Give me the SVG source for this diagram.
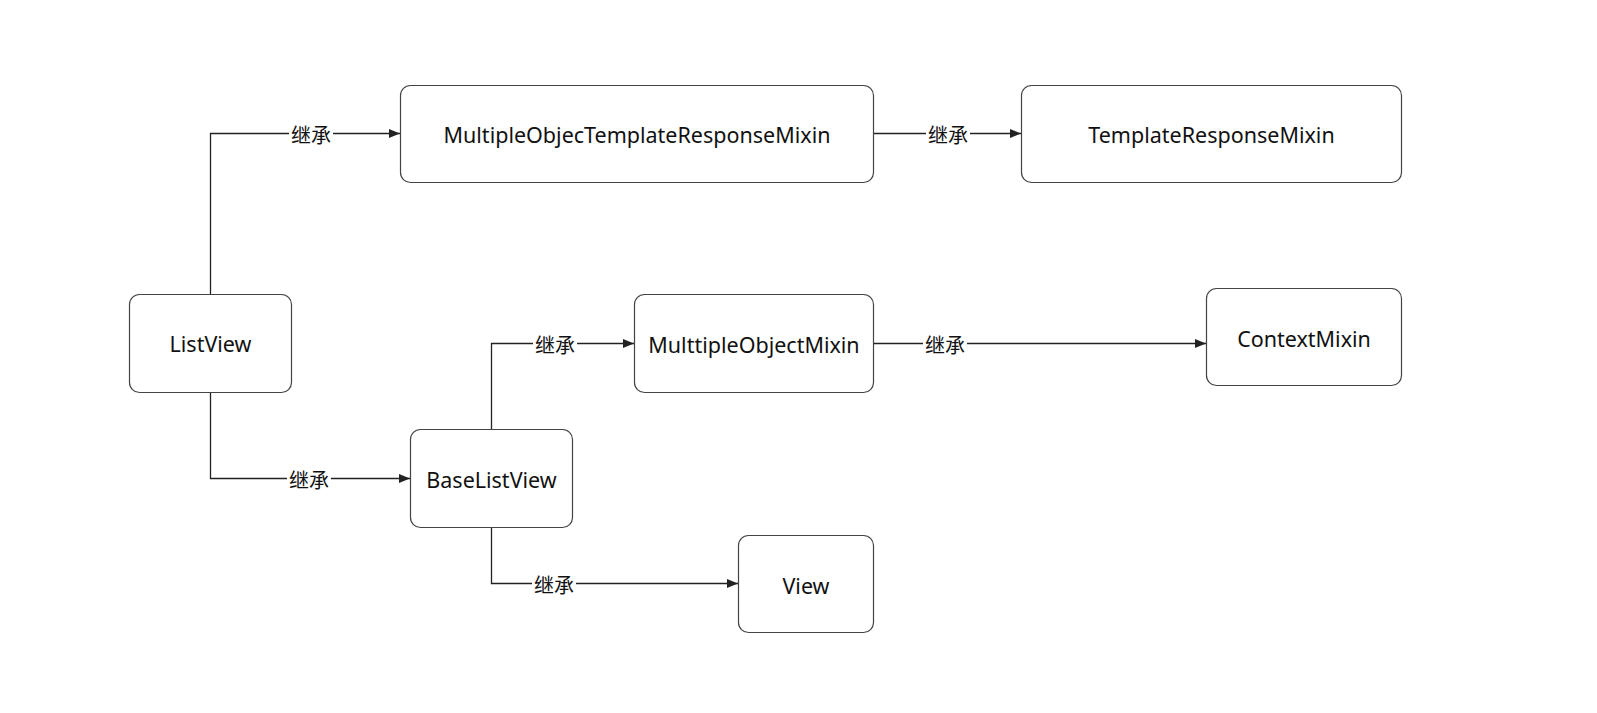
<svg xmlns="http://www.w3.org/2000/svg" width="1597" height="713" viewBox="0 0 1597 713">
<style>
.node rect{fill:#fff;stroke:#444;stroke-width:1.2}
.node text{font-family:"Noto Sans","Liberation Sans","Noto Sans CJK SC",sans-serif;font-size:21.5px;fill:#111;text-anchor:middle;dominant-baseline:central}
.edges path{fill:none;stroke:#222;stroke-width:1.3}
.lbl rect{fill:#fff}
.lbl text{font-family:"Noto Sans CJK SC","Noto Sans",sans-serif;font-size:20px;fill:#111;text-anchor:middle;dominant-baseline:central}
</style>
<defs>
<marker id="arr" viewBox="0 0 11 10" refX="11" refY="5" markerWidth="11" markerHeight="10" markerUnits="userSpaceOnUse" orient="auto">
<path d="M0,0.5 L11,5 L0,9.5 Z" fill="#222"/>
</marker>
</defs>
<rect width="1597" height="713" fill="#fff"/>
<g class="edges">
<path d="M210.5,294 V133.5 H400" marker-end="url(#arr)"/>
<path d="M210.5,392 V478.5 H410" marker-end="url(#arr)"/>
<path d="M873.5,133.5 H1021" marker-end="url(#arr)"/>
<path d="M491.5,429 V343.5 H634" marker-end="url(#arr)"/>
<path d="M873.5,343.5 H1206" marker-end="url(#arr)"/>
<path d="M491.5,527 V583.5 H738" marker-end="url(#arr)"/>
</g>
<g class="lbl">
<rect x="289" y="123" width="44" height="22"/><text x="311" y="134.5">继承</text>
<rect x="287" y="468" width="44" height="22"/><text x="309" y="479.5">继承</text>
<rect x="926" y="123" width="44" height="22"/><text x="948" y="134.5">继承</text>
<rect x="533" y="333" width="44" height="22"/><text x="555" y="344.5">继承</text>
<rect x="923" y="333" width="44" height="22"/><text x="945" y="344.5">继承</text>
<rect x="532" y="573" width="44" height="22"/><text x="554" y="584.5">继承</text>
</g>
<g id="ListView" class="node"><rect x="129.5" y="294.5" width="162" height="98" rx="10"/><text x="210.5" y="343.5">ListView</text></g>
<g id="MultipleObjecTemplateResponseMixin" class="node"><rect x="400.5" y="85.5" width="473" height="97" rx="10"/><text x="637" y="134.5">MultipleObjecTemplateResponseMixin</text></g>
<g id="TemplateResponseMixin" class="node"><rect x="1021.5" y="85.5" width="380" height="97" rx="10"/><text x="1211.5" y="134.5">TemplateResponseMixin</text></g>
<g id="MulttipleObjectMixin" class="node"><rect x="634.5" y="294.5" width="239" height="98" rx="10"/><text x="754" y="344">MulttipleObjectMixin</text></g>
<g id="ContextMixin" class="node"><rect x="1206.5" y="288.5" width="195" height="97" rx="10"/><text x="1304" y="338">ContextMixin</text></g>
<g id="BaseListView" class="node"><rect x="410.5" y="429.5" width="162" height="98" rx="10"/><text x="491.5" y="479">BaseListView</text></g>
<g id="View" class="node"><rect x="738.5" y="535.5" width="135" height="97" rx="10"/><text x="806" y="585">View</text></g>
</svg>
